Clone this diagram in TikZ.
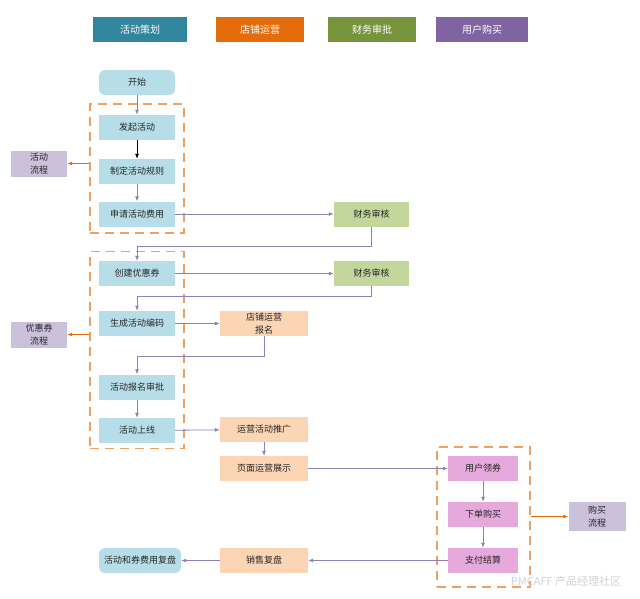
\documentclass[tikz,border=0pt]{standalone}
\usepackage{fontspec}
\setmainfont{Noto Sans CJK SC}
\usetikzlibrary{arrows.meta}
\definecolor{headteal}{HTML}{31859C}
\definecolor{headorange}{HTML}{E46C0A}
\definecolor{headgreen}{HTML}{77933C}
\definecolor{headpurple}{HTML}{8064A2}
\definecolor{planblue}{HTML}{B7DEE8}
\definecolor{shoporange}{HTML}{FCD5B5}
\definecolor{fingreen}{HTML}{C3D69B}
\definecolor{userpink}{HTML}{E6A9DC}
\definecolor{notelilac}{HTML}{CCC1DA}
\definecolor{linepurple}{HTML}{8C82B4}
\definecolor{grouporange}{HTML}{F0A060}
\tikzstyle{every node}=[inner sep=0pt, text=black!85, font=\fontsize{9}{12.5}\selectfont, align=center]
\tikzstyle{head}=[minimum height=25pt, text=white, font=\fontsize{10}{12}\selectfont]
\tikzstyle{box}=[minimum height=25pt]
\tikzstyle{plan}=[box, fill=planblue, minimum width=76pt]
\tikzstyle{shop}=[box, fill=shoporange, minimum width=88pt]
\tikzstyle{fin}=[box, fill=fingreen, minimum width=75pt]
\tikzstyle{user}=[box, fill=userpink, minimum width=70pt]
\tikzstyle{note}=[fill=notelilac, minimum width=56pt, minimum height=26pt]
\tikzstyle{group}=[draw=grouporange, line width=1.2pt, dash pattern=on 9pt off 6pt]
\tikzstyle{flow}=[draw=linepurple, line width=0.8pt, -{Latex[length=5pt,width=4pt]}]
\tikzstyle{outflow}=[draw=headorange, line width=0.8pt, -{Latex[length=5pt,width=4pt]}]

\begin{document}
\begin{tikzpicture}[x=1pt, y=-1pt]
\useasboundingbox (0,0) rectangle (640,598);
% Lanes
    \node[head, fill=headteal, minimum width=94pt] (hPlan) at (140,29.5) {活动策划};
    \node[head, fill=headorange, minimum width=88pt] (hShop) at (260,29.5) {店铺运营};
    \node[head, fill=headgreen, minimum width=88pt] (hFin) at (372,29.5) {财务审批};
    \node[head, fill=headpurple, minimum width=92pt] (hUser) at (482,29.5) {用户购买};
% Groups
    \node[group, minimum width=94pt, minimum height=129pt] (grpA) at (137,168.5) {};
    \node[group, minimum width=94pt, minimum height=197pt] (grpB) at (137,350) {};
    \node[group, minimum width=93pt, minimum height=140pt] (grpC) at (483.5,517) {};
% Steps
    \node[plan, rounded corners=6pt] (start) at (137,82.5) {开始};
    \node[plan] (launch) at (137,127.5) {发起活动};
    \node[plan] (rules) at (137,171.5) {制定活动规则};
    \node[plan] (apply) at (137,214) {申请活动费用};
    \node[fin] (finA) at (371.5,214) {财务审核};
    \node[plan] (create) at (137,273.5) {创建优惠券};
    \node[fin] (finB) at (371.5,273.5) {财务审核};
    \node[plan] (code) at (137,323.5) {生成活动编码};
    \node[shop] (signup) at (264,323.5) {店铺运营\\报名};
    \node[plan] (approve) at (137,387) {活动报名审批};
    \node[plan] (online) at (137,430.5) {活动上线};
    \node[shop] (promo) at (264,429.5) {运营活动推广};
    \node[shop] (show) at (264,468.5) {页面运营展示};
    \node[user] (claim) at (483,468.5) {用户领券};
    \node[user] (order) at (483,514.5) {下单购买};
    \node[user] (pay) at (483,560.5) {支付结算};
    \node[shop] (review) at (264,560.5) {销售复盘};
    \node[plan, rounded corners=6pt, minimum width=82pt] (recap) at (140,560.5) {活动和券费用复盘};
% Notes
    \node[note] (flowA) at (39,163.5) {活动\\流程};
    \node[note] (flowB) at (39,334.5) {优惠券\\流程};
    \node[note, minimum width=57pt, minimum height=29pt] (flowC) at (597,516.5) {购买\\流程};
    \node[text=black!18, font=\fontsize{11}{12}\selectfont] (mark) at (566,581) {PMCAFF 产品经理社区};
% Arrows
    \draw[flow] (start) -- (launch);
    \draw[flow, draw=black] (launch) -- (rules);
    \draw[flow] (rules) -- (apply);
    \draw[flow] (apply) -- (finA);
    \draw[flow] (finA.south) -- ++(0,20) -| (create.north);
    \draw[flow] (create) -- (finB);
    \draw[flow] (finB.south) -- ++(0,10) -| (code.north);
    \draw[flow] (code) -- (signup);
    \draw[flow] (signup.south) -- ++(0,20) -| (approve.north);
    \draw[flow] (approve) -- (online);
    \draw[flow] (online) -- (promo);
    \draw[flow] (promo) -- (show);
    \draw[flow] (show) -- (claim);
    \draw[flow] (claim) -- (order);
    \draw[flow] (order) -- (pay);
    \draw[flow] (pay) -- (review);
    \draw[flow] (review) -- (recap);
    \draw[outflow] (flowA.east -| grpA.west) -- (flowA.east);
    \draw[outflow] (flowB.east -| grpB.west) -- (flowB.east);
    \draw[outflow] (flowC.west -| grpC.east) -- (flowC.west);
\end{tikzpicture}
\end{document}
